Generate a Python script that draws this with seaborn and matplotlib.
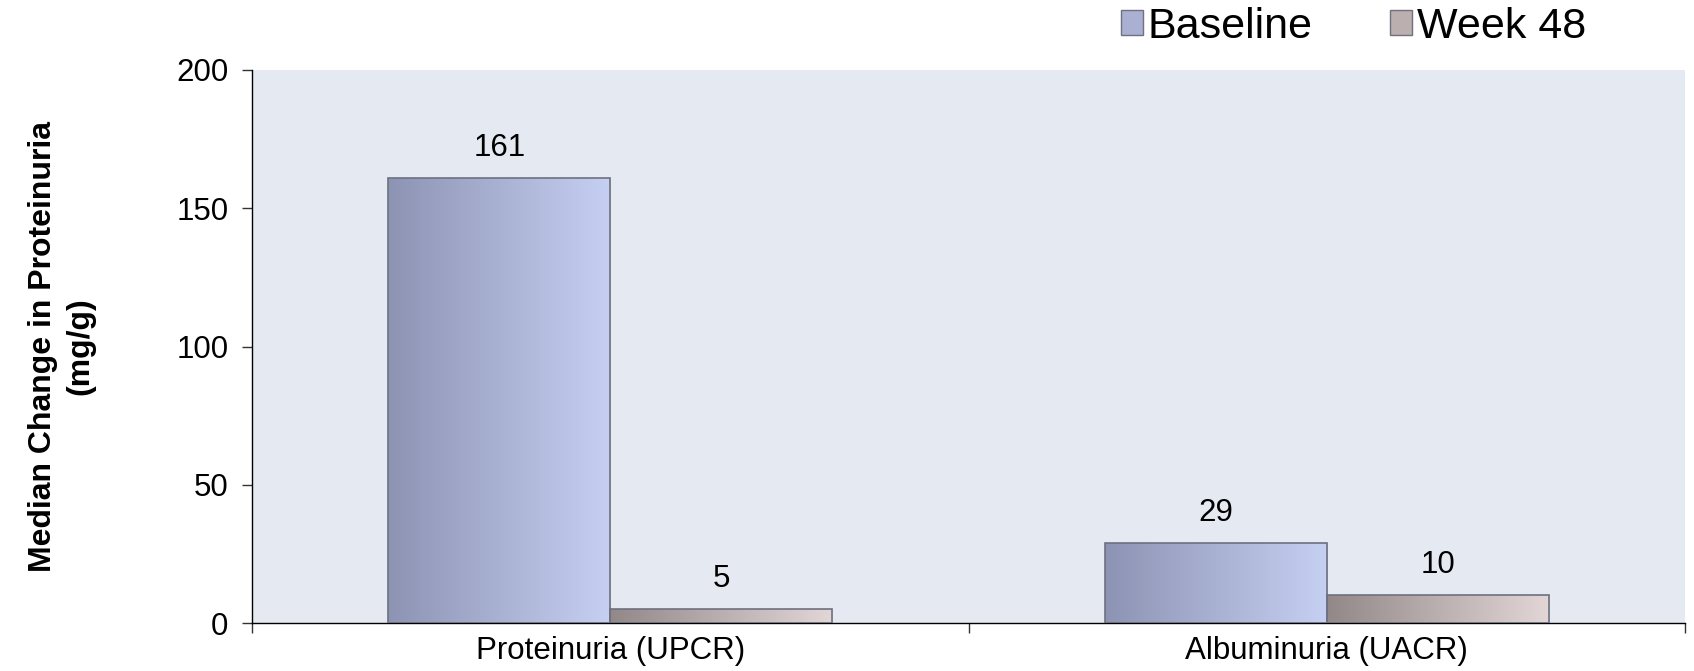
import numpy as np
import pandas as pd
import matplotlib
matplotlib.use("Agg")
import matplotlib.pyplot as plt
from matplotlib.patches import Patch
from matplotlib.colors import LinearSegmentedColormap
import seaborn as sns

# Median proteinuria values by measure and time point
categories = ["Proteinuria (UPCR)", "Albuminuria (UACR)"]
series_names = ["Baseline", "Week 48"]
baseline_values = [161, 29]
week48_values = [5, 10]
y_ticks = [0, 50, 100, 150, 200]

df = pd.DataFrame({
    "measure": categories * 2,
    "timepoint": [series_names[0]] * 2 + [series_names[1]] * 2,
    "value": baseline_values + week48_values,
})

sns.set_theme(style="white")
plt.rcParams["font.family"] = ["Liberation Sans", "DejaVu Sans"]

fig = plt.figure(figsize=(16.94, 6.71), dpi=100)
ax = fig.add_axes([0.1488, 0.0715, 0.8459, 0.8242])
ax.set_facecolor("#E5E9F1")

gradients = {
    "Baseline": ("#8D93B3", "#C6D0F2"),
    "Week 48": ("#938888", "#E2D6D6"),
}
mid_colors = {"Baseline": "#A9B0D2", "Week 48": "#BBAFAF"}

sns.barplot(data=df, x="measure", y="value", hue="timepoint",
            order=categories, hue_order=series_names,
            palette=mid_colors, width=0.62, gap=0, dodge=True,
            legend=False, ax=ax, zorder=2)

# Horizontal gradient fill for each bar, clipped to the bar shape
for container, name in zip(ax.containers, series_names):
    cmap = LinearSegmentedColormap.from_list(name, gradients[name])
    grad = np.linspace(0, 1, 256).reshape(1, -1)
    for bar in container:
        x0, y0 = bar.get_x(), bar.get_y()
        w, h = bar.get_width(), bar.get_height()
        im = ax.imshow(grad, cmap=cmap, aspect="auto",
                       extent=[x0, x0 + w, y0, y0 + h], zorder=2.5,
                       interpolation="bicubic")
        im.set_clip_path(bar)
        bar.set_facecolor("none")
        bar.set_edgecolor("#6E7080")
        bar.set_linewidth(1.2)
        bar.set_zorder(3)
    ax.bar_label(container, labels=[str(int(v.get_height())) for v in container],
                 padding=11, fontsize=22.5, color="black")

ax.set_xlim(-0.5, 1.5)
ax.set_ylim(0, 200)
ax.set_yticks(y_ticks)
ax.set_yticklabels([str(t) for t in y_ticks], fontsize=22.5)
ax.set_xticks([0, 1])
ax.set_xticklabels(categories, fontsize=22.5)
ax.set_xticks([-0.5, 0.5, 1.5], minor=True)
ax.tick_params(axis="x", which="major", length=0, pad=9, labelcolor="black")
ax.tick_params(axis="x", which="minor", length=7, width=1, color="#333333",
               direction="out", bottom=True)
ax.tick_params(axis="y", length=7, width=1, color="#333333", direction="out",
               left=True, pad=10, labelcolor="black")

for side in ["top", "right"]:
    ax.spines[side].set_visible(False)
for side in ["left", "bottom"]:
    ax.spines[side].set_visible(True)
    ax.spines[side].set_color("black")
    ax.spines[side].set_linewidth(1.0)

ax.set_xlabel("")
ax.set_ylabel("")
fig.text(0.0365, 0.484, "Median Change in Proteinuria\n(mg/g)", rotation=90,
         ha="center", va="center", fontsize=23, fontweight="bold",
         color="black", linespacing=1.3, multialignment="center")

handles = [Patch(facecolor=mid_colors[n], edgecolor="#707080", linewidth=1.0)
           for n in series_names]
fig.legend(handles, series_names, loc="upper left",
           bbox_to_anchor=(0.639, 1.048), ncol=2, frameon=False,
           fontsize=31, handlelength=0.5, handleheight=0.5,
           handletextpad=0.12, columnspacing=1.8, labelcolor="black")

fig.savefig("out.png", dpi=100)
